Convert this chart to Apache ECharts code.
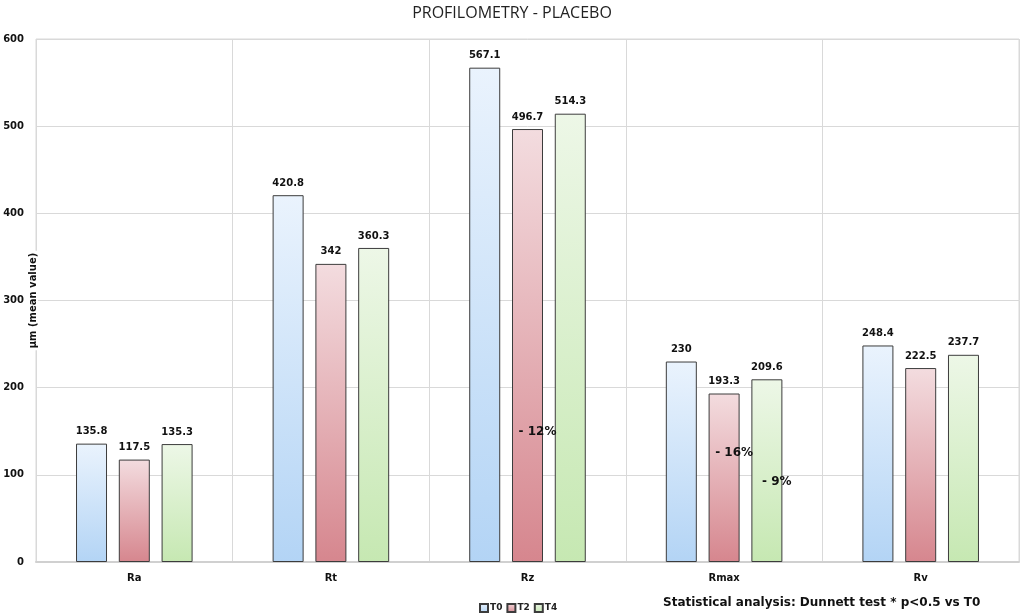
<!DOCTYPE html>
<html>
<head>
<meta charset="utf-8">
<script src="https://cdn.jsdelivr.net/npm/echarts@6/dist/echarts.min.js"></script>
<style>
  html, body { margin: 0; padding: 0; background: #fff; }
  #chart { width: 1024px; height: 616px; }
</style>
</head>
<body>
<div id="chart"></div>
<script>
// categories and values (µm, mean value)
var categories = ['Ra', 'Rt', 'Rz', 'Rmax', 'Rv'];
var t0Data = [135.8, 420.8, 567.1, 230, 248.4];
var t2Data = [117.5, 342, 496.7, 193.3, 222.5];
var t4Data = [135.3, 360.3, 514.3, 209.6, 237.7];
// percent change vs T0 (only the significant ones are written)
var t2Notes = ['', '', '- 12%', '- 16%', ''];
var t4Notes = ['', '', '', '- 9%', ''];

var labelFont = 'DejaVu Sans';

function grad(top, bottom) {
    return new echarts.graphic.LinearGradient(0, 0, 0, 1, [
        { offset: 0, color: top },
        { offset: 1, color: bottom }
    ]);
}

// note sits at a fraction of the bar height
function notePoints(notes, values, frac) {
    var pts = [];
    for (var i = 0; i < notes.length; i++) {
        if (notes[i]) {
            pts.push({ coord: [i, values[i] * frac[i]], value: notes[i] });
        }
    }
    return pts;
}

function makeSeries(name, data, top, bottom, notes, frac) {
    var s = {
        name: name,
        type: 'bar',
        barWidth: 31,
        barGap: '38%',
        itemStyle: {
            color: grad(top, bottom),
            borderColor: '#3c3c3c',
            borderWidth: 1
        },
        label: {
            show: true,
            position: 'top',
            distance: 7,
            fontFamily: labelFont,
            fontWeight: 'bold',
            fontSize: 10,
            color: '#111'
        },
        data: data
    };
    if (notes) {
        s.markPoint = {
            symbol: 'rect',
            symbolSize: 1,
            itemStyle: { color: 'rgba(0,0,0,0)' },
            label: {
                show: true,
                position: 'inside',
                offset: [10, 0],
                fontFamily: labelFont,
                fontWeight: 'bold',
                fontSize: 12,
                color: '#111',
                formatter: function (p) { return p.value; }
            },
            data: notePoints(notes, data, frac)
        };
    }
    return s;
}

var chart = echarts.init(document.getElementById('chart'));
var option = {
    backgroundColor: '#fff',
    animation: false,
    title: {
        text: 'PROFILOMETRY - PLACEBO',
        left: 'center',
        top: 0,
        textStyle: {
            fontFamily: 'Open Sans',
            fontWeight: 'normal',
            fontSize: 16,
            color: '#222'
        }
    },
    legend: {
        data: ['T0', 'T2', 'T4'],
        left: 474,
        top: 598,
        itemWidth: 8,
        itemHeight: 8,
        itemGap: 4,
        icon: 'rect',
        textStyle: {
            fontFamily: labelFont,
            fontWeight: 'bold',
            fontSize: 9,
            color: '#222',
            padding: [0, 0, 0, -3]
        }
    },
    graphic: [{
        type: 'text',
        left: 663,
        top: 597,
        style: {
            text: 'Statistical analysis: Dunnett test * p<0.5 vs T0',
            fontFamily: labelFont,
            fontWeight: 'bold',
            fontSize: 12,
            fill: '#111'
        }
    }],
    grid: {
        left: 36,
        right: 5,
        top: 39,
        bottom: 54,
        containLabel: false,
        outerBoundsMode: 'none',
        show: true,
        borderColor: '#d9d9d9',
        borderWidth: 1
    },
    xAxis: {
        type: 'category',
        data: categories,
        axisTick: { show: false },
        axisLine: { lineStyle: { color: '#d0d0d0', width: 2 } },
        splitLine: { show: true, lineStyle: { color: '#d9d9d9' } },
        axisLabel: {
            margin: 11,
            fontFamily: labelFont,
            fontWeight: 'bold',
            fontSize: 10,
            color: '#111'
        }
    },
    yAxis: {
        type: 'value',
        min: 0,
        max: 600,
        interval: 100,
        name: 'µm (mean value)',
        nameLocation: 'middle',
        nameGap: -2,
        nameMoveOverlap: false,
        nameTextStyle: {
            fontFamily: labelFont,
            fontWeight: 'bold',
            fontSize: 10,
            color: '#111',
            backgroundColor: '#fff',
            padding: [0, 2]
        },
        axisLine: { show: false },
        axisTick: { show: false },
        splitLine: { lineStyle: { color: '#d9d9d9' } },
        axisLabel: {
            margin: 12,
            fontFamily: labelFont,
            fontWeight: 'bold',
            fontSize: 10,
            color: '#111'
        }
    },
    series: [
        makeSeries('T0', t0Data, '#eaf3fd', '#b3d4f5'),
        makeSeries('T2', t2Data, '#f3dcdf', '#d6868e', t2Notes, [0, 0, 0.30, 0.645, 0]),
        makeSeries('T4', t4Data, '#edf7e7', '#c6e8b2', t4Notes, [0, 0, 0, 0.44, 0])
    ]
};
chart.setOption(option);
</script>
</body>
</html>
